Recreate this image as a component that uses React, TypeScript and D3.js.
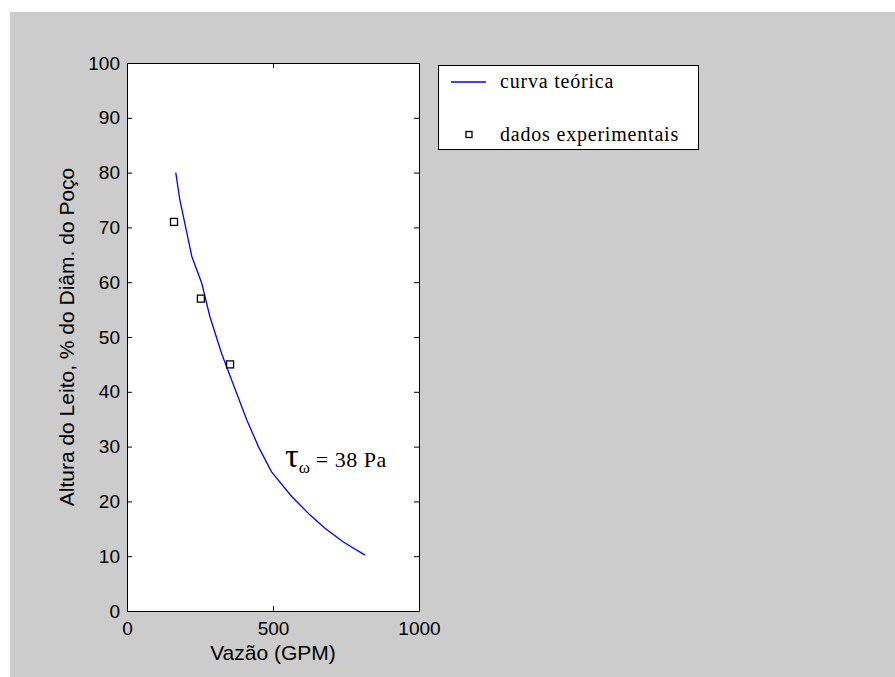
import * as d3 from 'd3';
import { useEffect, useRef } from 'react';

// theoretical curve (GPM, % of well diameter)
const curveFlow = [167, 181, 222, 256, 284, 324, 358, 410, 450, 495, 564, 627, 678, 741, 815];
const curveHeight = [80, 75, 64.7, 59.8, 53.7, 47, 42.2, 34.9, 30, 25.4, 20.9, 17.5, 15.1, 12.6, 10.2];

// experimental points
const expFlow = [161, 253, 353];
const expHeight = [71, 57, 45];

const xTicks = [0, 500, 1000];
const yTicks = [0, 10, 20, 30, 40, 50, 60, 70, 80, 90, 100];

const W = 895;
const H = 677;

export default function App() {
  const ref = useRef<SVGSVGElement>(null);

  useEffect(() => {
    const svg = d3.select(ref.current);
    svg.selectAll('*').remove();

    const plot = { left: 127, top: 63, right: 419, bottom: 611 };
    const x = d3.scaleLinear().domain([0, 1000]).range([plot.left, plot.right]);
    const y = d3.scaleLinear().domain([0, 100]).range([plot.bottom, plot.top]);

    // figure background
    svg.append('rect').attr('width', W).attr('height', H).attr('fill', '#fff');
    svg.append('rect').attr('x', 10).attr('y', 12).attr('width', W - 10).attr('height', H - 12).attr('fill', '#cccccc');

    // axes box
    svg.append('rect')
      .attr('x', plot.left).attr('y', plot.top)
      .attr('width', plot.right - plot.left).attr('height', plot.bottom - plot.top)
      .attr('fill', '#fff');

    const sans = '"Liberation Sans", Arial, sans-serif';
    const serif = '"Liberation Serif", "Times New Roman", serif';
    const axisStyle = (g: any) => {
      g.select('.domain').attr('stroke', '#000');
      g.selectAll('.tick line').attr('stroke', '#000');
      g.selectAll('.tick text').attr('fill', '#000').style('font-family', sans).style('font-size', '19px');
    };

    svg.append('g')
      .attr('transform', `translate(0,${plot.bottom})`)
      .call(d3.axisBottom(x).tickValues(xTicks).tickSizeInner(-5).tickSizeOuter(0).tickPadding(11).tickFormat(d3.format('d')))
      .call(axisStyle);
    svg.append('g')
      .attr('transform', `translate(0,${plot.top})`)
      .call(d3.axisTop(x).tickValues(xTicks).tickSizeInner(-5).tickSizeOuter(0).tickFormat(() => ''))
      .call(axisStyle);
    svg.append('g')
      .attr('transform', `translate(${plot.left},0)`)
      .call(d3.axisLeft(y).tickValues(yTicks).tickSizeInner(-5).tickSizeOuter(0).tickPadding(7).tickFormat(d3.format('d')))
      .call(axisStyle);
    svg.append('g')
      .attr('transform', `translate(${plot.right},0)`)
      .call(d3.axisRight(y).tickValues(yTicks).tickSizeInner(-5).tickSizeOuter(0).tickFormat(() => ''))
      .call(axisStyle);

    // theoretical curve
    const line = d3.line<number>()
      .x((d) => x(d))
      .y((_, i) => y(curveHeight[i]));
    svg.append('path')
      .attr('d', line(curveFlow))
      .attr('fill', 'none')
      .attr('stroke', '#0000ff')
      .attr('stroke-width', 1.3);

    // experimental squares
    svg.selectAll('rect.exp')
      .data(expFlow)
      .enter()
      .append('rect')
      .attr('class', 'exp')
      .attr('x', (d) => x(d) - 3.5)
      .attr('y', (_, i) => y(expHeight[i]) - 3.5)
      .attr('width', 7)
      .attr('height', 7)
      .attr('fill', 'none')
      .attr('stroke', '#000')
      .attr('stroke-width', 1.3);

    // annotation
    const ann = svg.append('text')
      .attr('x', x(541))
      .attr('y', y(26.3))
      .style('font-family', serif)
      .attr('fill', '#000');
    ann.append('tspan').style('font-size', '34px').text('τ');
    ann.append('tspan').style('font-size', '17px').attr('dy', 6).text('ω');
    ann.append('tspan').style('font-size', '22px').style('letter-spacing', '0.5px').attr('dy', -6).attr('dx', 6).text('= 38 Pa');

    // axis labels
    svg.append('text')
      .attr('x', (plot.left + plot.right) / 2)
      .attr('y', 660)
      .attr('text-anchor', 'middle')
      .style('font-family', sans)
      .style('font-size', '21px')
      .attr('fill', '#000')
      .text('Vazão (GPM)');
    svg.append('text')
      .attr('transform', `translate(74,${(plot.top + plot.bottom) / 2}) rotate(-90)`)
      .attr('text-anchor', 'middle')
      .style('font-family', sans)
      .style('font-size', '21px')
      .attr('fill', '#000')
      .text('Altura do Leito, % do Diâm. do Poço');

    // legend
    const leg = svg.append('g');
    leg.append('rect')
      .attr('x', 438.5).attr('y', 65.5).attr('width', 260).attr('height', 84)
      .attr('fill', '#fff').attr('stroke', '#000').attr('stroke-width', 1);
    leg.append('line')
      .attr('x1', 451).attr('x2', 486).attr('y1', 82).attr('y2', 82)
      .attr('stroke', '#0000ff').attr('stroke-width', 1.3);
    leg.append('rect')
      .attr('x', 466).attr('y', 131.5).attr('width', 6).attr('height', 6)
      .attr('fill', 'none').attr('stroke', '#000').attr('stroke-width', 1.3);
    const legText = ['curva teórica', 'dados experimentais'];
    leg.selectAll('text.lt')
      .data(legText)
      .enter()
      .append('text')
      .attr('class', 'lt')
      .attr('x', 500)
      .attr('y', (_, i) => 88 + i * 53)
      .style('font-family', serif)
      .style('font-size', '20px')
      .style('letter-spacing', '0.8px')
      .attr('fill', '#000')
      .text((d) => d);
  }, []);

  return (
    <svg
      ref={ref}
      width={W}
      height={H}
      style={{ position: 'absolute', left: 0, top: 0, display: 'block' }}
    />
  );
}
